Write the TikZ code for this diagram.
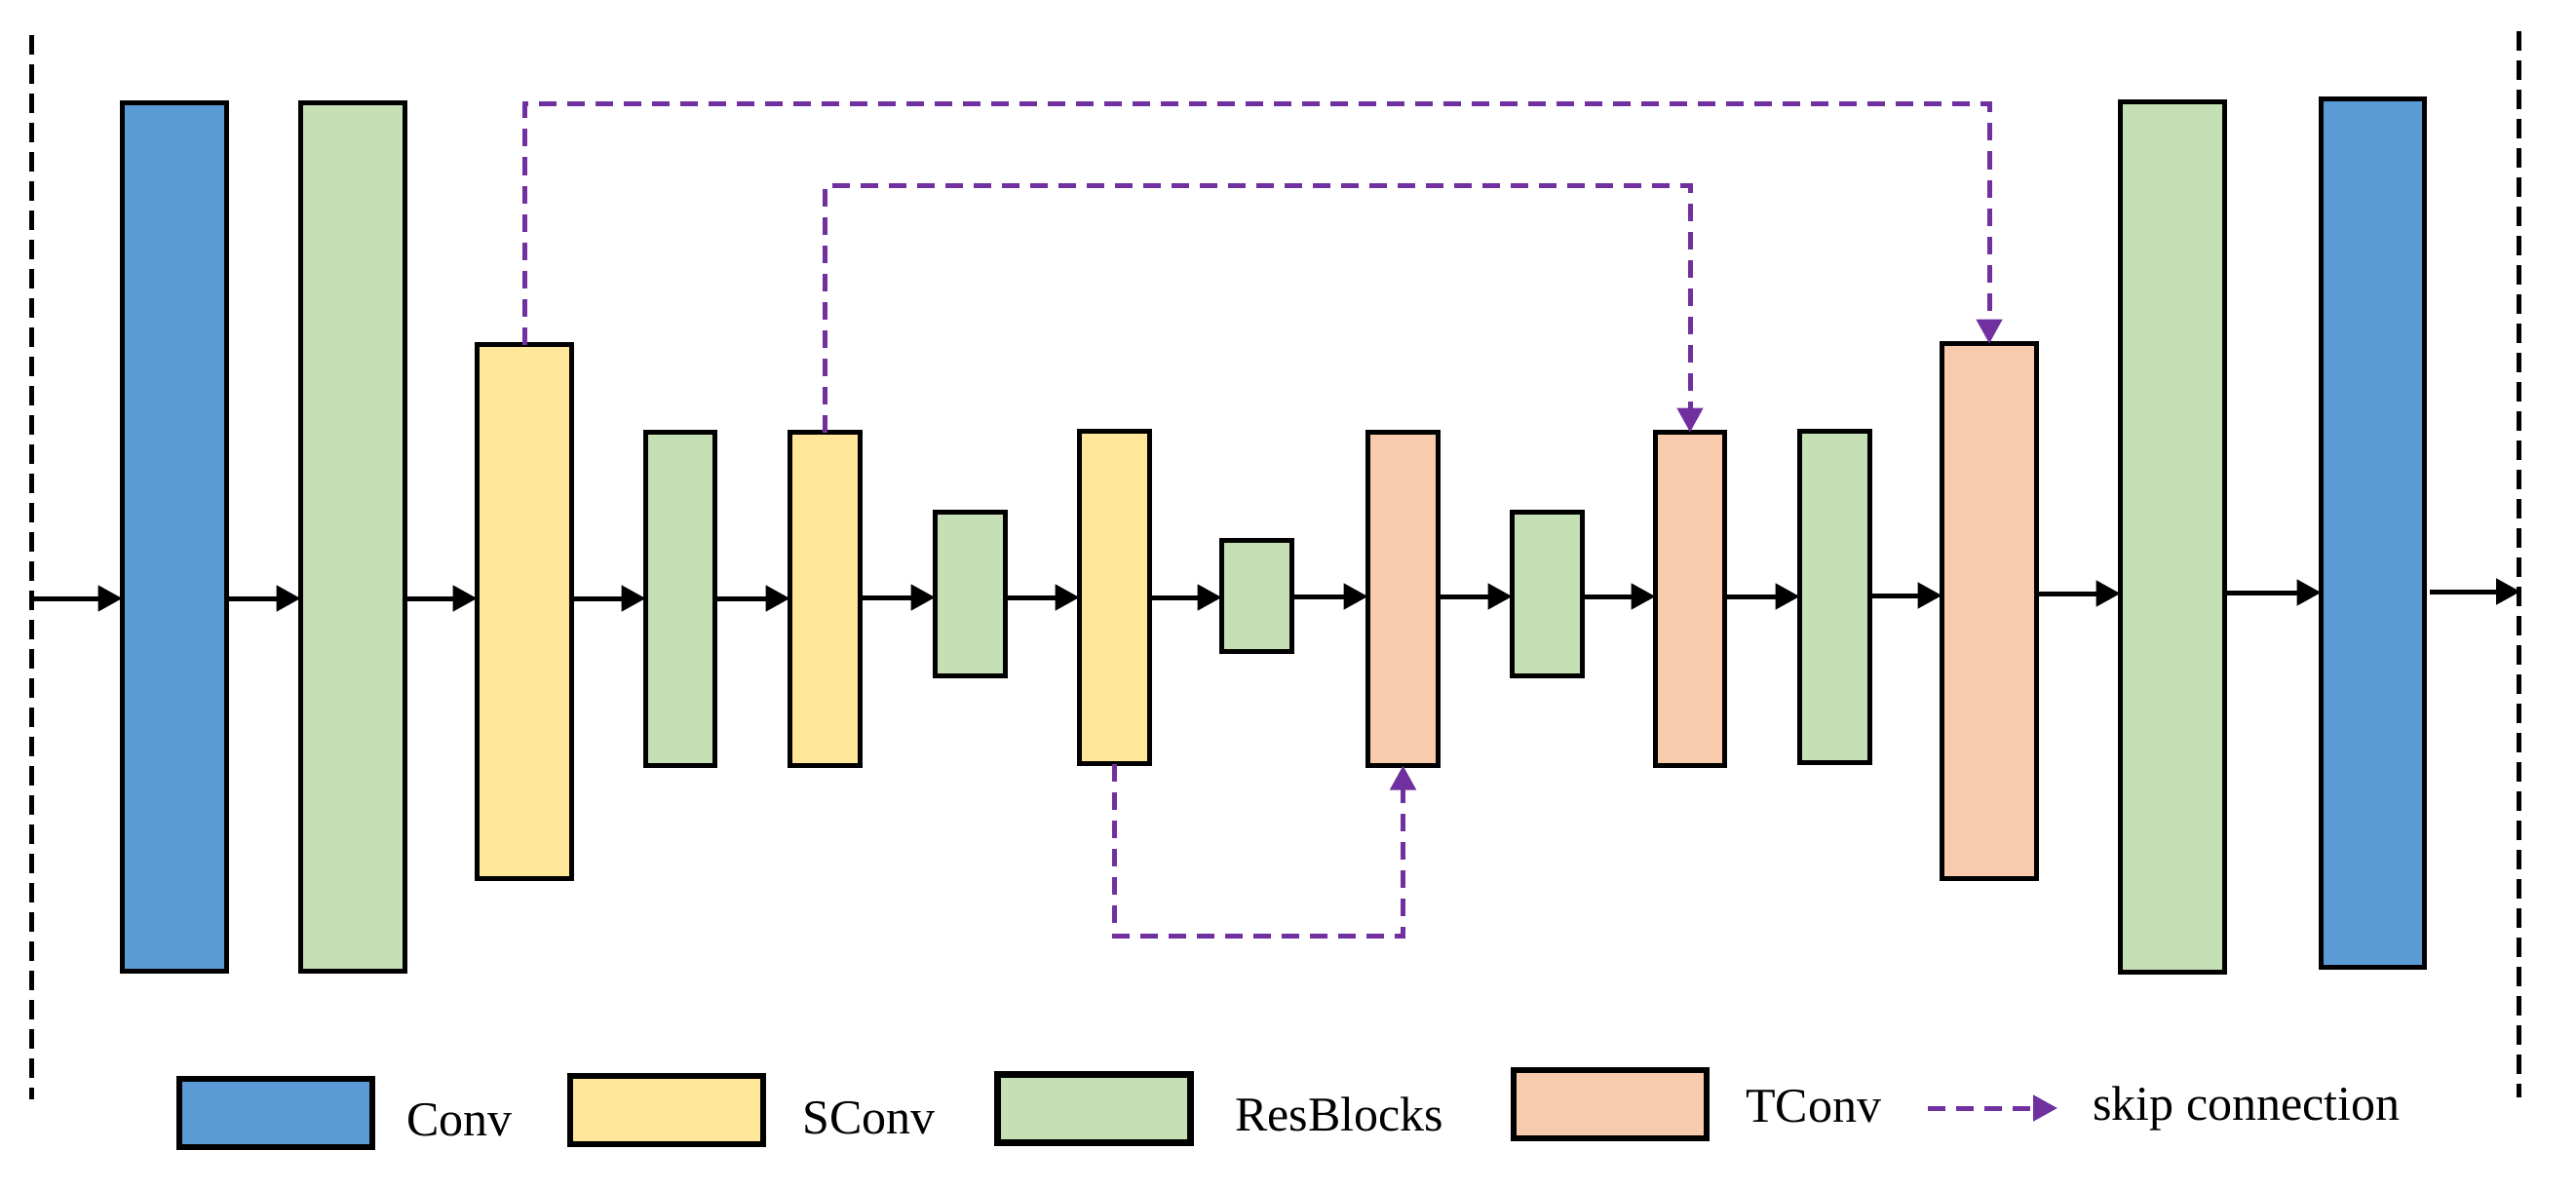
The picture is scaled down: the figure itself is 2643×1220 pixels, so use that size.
\documentclass[tikz,border=0pt]{standalone}
\usepackage{fontspec}
\setmainfont{Liberation Serif}
\usetikzlibrary{arrows.meta}
\definecolor{cblue}{HTML}{5B9BD5}
\definecolor{cgreen}{HTML}{C5E0B4}
\definecolor{cyellow}{HTML}{FFE699}
\definecolor{csalmon}{HTML}{F8CBAD}
\definecolor{cpurple}{HTML}{7030A0}
\tikzset{
  box/.style={draw=black, line width=5.5pt, inner sep=0pt, outer sep=0pt},
  lbox/.style={draw=black, line width=6.5pt, inner sep=0pt, minimum width=198pt, minimum height=70pt},
  flow/.style={draw=black, line width=5pt, -{Triangle[length=25pt,width=26pt]}},
  skipc/.style={draw=cpurple, line width=5pt, dash pattern=on 18pt off 11pt, -{Triangle[length=25pt,width=26pt]}},
  border/.style={draw=black, line width=5pt, dash pattern=on 20pt off 10pt},
  ltext/.style={anchor=base west, inner sep=0pt, font=\fontsize{50}{60}\selectfont}
}
\begin{document}
\begin{tikzpicture}[x=1pt,y=-1pt]
\useasboundingbox (0,0) rectangle (2643,1220);
% side borders
\coordinate (lt) at (32,36); \coordinate (lb) at (32,1128);
\coordinate (rt) at (2584,32); \coordinate (rb) at (2584,1126);
\draw[border] (lt) -- (lb);
\draw[border] (rt) -- (rb);
% blocks
\node[box, fill=cblue,   minimum width=107pt, minimum height=891pt] (n1)  at (179,551) {};
\node[box, fill=cgreen,  minimum width=107pt, minimum height=891pt] (n2)  at (362,551) {};
\node[box, fill=cyellow, minimum width=97pt,  minimum height=548pt] (n3)  at (538,627.5) {};
\node[box, fill=cgreen,  minimum width=71pt,  minimum height=342pt] (n4)  at (698,614.5) {};
\node[box, fill=cyellow, minimum width=72pt,  minimum height=342pt] (n5)  at (846.5,614.5) {};
\node[box, fill=cgreen,  minimum width=72pt,  minimum height=168pt] (n6)  at (995.5,609.5) {};
\node[box, fill=cyellow, minimum width=72pt,  minimum height=341pt] (n7)  at (1143.5,613) {};
\node[box, fill=cgreen,  minimum width=72pt,  minimum height=114pt] (n8)  at (1289.5,611.5) {};
\node[box, fill=csalmon, minimum width=72pt,  minimum height=342pt] (n9)  at (1439.5,614.5) {};
\node[box, fill=cgreen,  minimum width=72pt,  minimum height=168pt] (n10) at (1587.5,609.5) {};
\node[box, fill=csalmon, minimum width=71pt,  minimum height=342pt] (n11) at (1734,614.5) {};
\node[box, fill=cgreen,  minimum width=72pt,  minimum height=340pt] (n12) at (1882.5,612.5) {};
\node[box, fill=csalmon, minimum width=97pt,  minimum height=549pt] (n13) at (2041,627) {};
\node[box, fill=cgreen,  minimum width=107pt, minimum height=893pt] (n14) at (2229,551) {};
\node[box, fill=cblue,   minimum width=106pt, minimum height=891pt] (n15) at (2434.5,547) {};
% main flow
\coordinate (in) at (34,614);
\coordinate (out) at (2586,607);
\draw[flow] (in) -- (n1.west |- in);
\foreach \a/\b/\y in {n1/n2/614,n2/n3/614,n3/n4/614,n4/n5/614,n5/n6/613,n6/n7/613,n7/n8/613,n8/n9/612,n9/n10/612,n10/n11/612,n11/n12/612,n12/n13/611,n13/n14/609,n14/n15/608}
  \draw[flow] (\a.east |- 0,\y) -- (\b.west |- 0,\y);
\draw[flow] (n15.east |- out) ++(5,0) -- (out);
% skip connections
\coordinate (s1) at (0,107);
\coordinate (s2) at (0,190);
\coordinate (s3) at (0,960);
\draw[skipc] (n3.north) -- (n3.north |- s1) -| (n13.north);
\draw[skipc] (n5.north) -- (n5.north |- s2) -| (n11.north);
\draw[skipc] (n7.south) -- (n7.south |- s3) -| (n9.south);
% legend
\node[lbox, fill=cblue]   (l1) at (283,1142) {};
\node[ltext] (t1) at (417,1165) {Conv};
\node[lbox, fill=cyellow] (l2) at (684,1139) {};
\node[ltext] (t2) at (823,1163) {SConv};
\node[lbox, fill=cgreen]  (l3) at (1122.5,1137.5) {};
\node[ltext] (t3) at (1267,1160) {ResBlocks};
\node[lbox, fill=csalmon] (l4) at (1652,1133) {};
\node[ltext] (t4) at (1791,1151) {TConv};
\coordinate (k1) at (1978,1137);
\coordinate (k2) at (2111,1137);
\draw[skipc] (k1) -- (k2);
\node[ltext] (t5) at (2147,1149) {skip connection};
\end{tikzpicture}
\end{document}
